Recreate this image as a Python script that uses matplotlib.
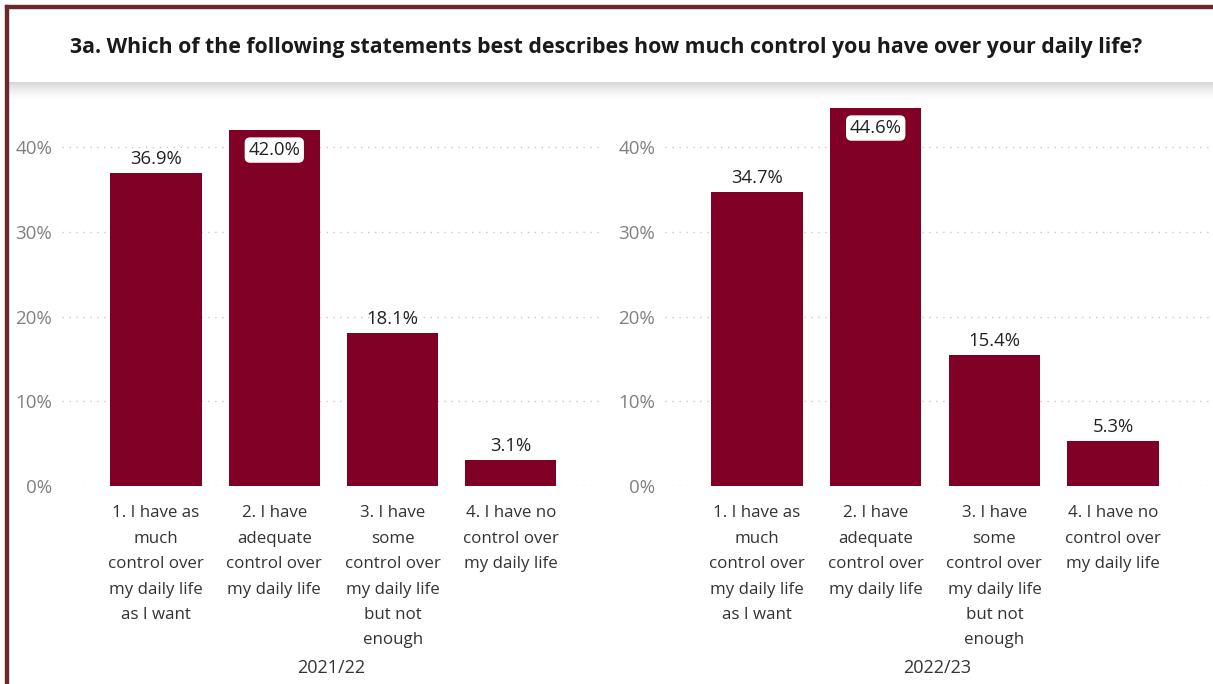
import matplotlib.pyplot as plt
from matplotlib.patches import Rectangle

plt.rcParams['font.family'] = ['Open Sans', 'DejaVu Sans']

# data
categories = ["1. I have as\nmuch\ncontrol over\nmy daily life\nas I want",
              "2. I have\nadequate\ncontrol over\nmy daily life",
              "3. I have\nsome\ncontrol over\nmy daily life\nbut not\nenough",
              "4. I have no\ncontrol over\nmy daily life"]
years = ["2021/22", "2022/23"]
values_2122 = [36.9, 42.0, 18.1, 3.1]
values_2223 = [34.7, 44.6, 15.4, 5.3]
yticks = [0, 10, 20, 30, 40]

bar_color = "#800026"
frame_color = "#6B2A2A"
W, H = 1213, 684

fig = plt.figure(figsize=(W / 100, H / 100), dpi=100)

# frame lines (left + top) and title banner with a soft shadow
fig.patches.append(Rectangle((5 / W, 0), 3 / W, 1 - 5 / H, transform=fig.transFigure,
                             color=frame_color, zorder=5))
fig.patches.append(Rectangle((5 / W, 1 - 8 / H), 1, 3 / H, transform=fig.transFigure,
                             color=frame_color, zorder=5))
for i in range(18):
    a = 0.16 * (1 - i / 18) ** 1.5
    fig.patches.append(Rectangle((8 / W, 1 - (83 + i) / H), 1, 1 / H,
                                 transform=fig.transFigure, color="black",
                                 alpha=a, lw=0, zorder=1))
fig.text(0.5, 1 - 47 / H,
         "3a. Which of the following statements best describes how much control you have over your daily life?",
         ha="center", va="center", fontsize=15.3, fontweight="bold", color="#1a1a1a")


def panel(left_px, right_px, centre0, spacing, values, year):
    bottom_px, top_px = 486, 100
    ax = fig.add_axes([left_px / W, 1 - bottom_px / H, (right_px - left_px) / W,
                       (bottom_px - top_px) / H])
    x = list(range(len(values)))
    ax.bar(x, values, width=0.77, color=bar_color, zorder=2)
    ax.set_xlim(-(centre0 - left_px) / spacing, (right_px - centre0) / spacing)
    ymax = (bottom_px - top_px) / 8.475
    ax.set_ylim(0, ymax)
    ax.set_yticks(yticks)
    ax.set_yticklabels([f"{t}%" for t in yticks])
    ax.grid(axis="y", color="#c8c8c8", linestyle=(0, (1, 4)), lw=1, zorder=0)
    for s in ax.spines.values():
        s.set_visible(False)
    ax.tick_params(axis="y", length=0, labelsize=13.5, labelcolor="#808080", pad=7)
    ax.tick_params(axis="x", length=0, labelsize=12.2, labelcolor="#333333", pad=14)
    ax.set_xticks(x)
    ax.set_xticklabels(categories, linespacing=1.78)
    mid = (left_px + right_px) / 2 / W
    fig.text(mid, 1 - 668 / H, year, ha="center", va="center", fontsize=13, color="#333333")
    for xi, v in zip(x, values):
        lab = f"{v:.1f}%"
        if v > 40:
            ax.text(xi, v - 1.3, lab, ha="center", va="top", fontsize=13.3, color="#222222",
                    bbox=dict(boxstyle="round,pad=0.2,rounding_size=0.3",
                              fc="white", ec="none"), zorder=3)
        else:
            ax.text(xi, v + 0.6, lab, ha="center", va="bottom", fontsize=13.3,
                    color="#222222", zorder=3)
    return ax


panel(62, 600, 156, 118.3, values_2122, years[0])
panel(665, 1210, 757, 118.7, values_2223, years[1])

fig.savefig("out.png", dpi=100, facecolor="white")
